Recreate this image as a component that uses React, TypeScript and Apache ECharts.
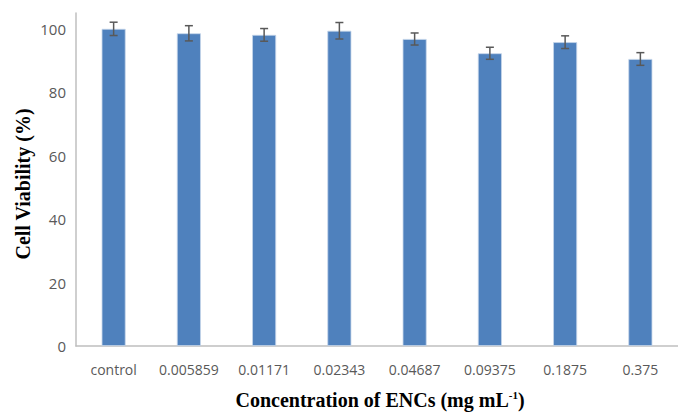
import React, { useEffect, useRef } from "react";
import * as echarts from "echarts";

const categories = ["control", "0.005859", "0.01171", "0.02343", "0.04687", "0.09375", "0.1875", "0.375"];
const viability = [100, 98.6, 98.1, 99.4, 96.8, 92.3, 95.8, 90.5];
const errors = [2.1, 2.4, 2.0, 2.6, 1.9, 1.9, 2.0, 2.0];
const yTicks = [0, 20, 40, 60, 80, 100];

export default function App() {
  const ref = useRef<HTMLDivElement>(null);
  useEffect(() => {
    if (!ref.current) return;
    const chart = echarts.init(ref.current, null, { renderer: "svg" });
    const errData = viability.map((v, i) => [i, v - errors[i], v + errors[i]]);
    chart.setOption({
      animation: false,
      backgroundColor: "#ffffff",
      grid: { left: 76, top: 13, width: 616, height: 333, containLabel: false },
      xAxis: {
        type: "category",
        data: categories,
        axisLine: { lineStyle: { color: "#BFBFBF", width: 1.5 } },
        axisTick: { show: false },
        axisLabel: { interval: 0, color: "#595959", fontSize: 14, fontFamily: "Open Sans", margin: 16 },
      },
      yAxis: {
        type: "value",
        min: 0,
        max: 105,
        interval: 20,
        splitLine: { show: false },
        axisLine: { show: true, lineStyle: { color: "#BFBFBF", width: 1.5 } },
        axisTick: { show: false },
        axisLabel: {
          color: "#595959",
          fontSize: 15,
          fontFamily: "Open Sans",
          margin: 10,
          showMaxLabel: false,
          formatter: (v: number) => (yTicks.includes(v) ? String(v) : ""),
        },
      },
      series: [
        {
          type: "bar",
          data: viability,
          barWidth: 24,
          itemStyle: { color: "#4F81BD", borderColor: "#c5d5ea", borderWidth: 0.8 },
        },
        {
          type: "custom",
          data: errData,
          z: 10,
          renderItem: (params: any, api: any) => {
            const x = api.value(0);
            const lo = api.coord([x, api.value(1)]);
            const hi = api.coord([x, api.value(2)]);
            const hw = 4;
            const st = { stroke: "#595959", lineWidth: 1.5 };
            return {
              type: "group",
              children: [
                { type: "line", shape: { x1: lo[0], y1: lo[1], x2: hi[0], y2: hi[1] }, style: st },
                { type: "line", shape: { x1: lo[0] - hw, y1: lo[1], x2: lo[0] + hw, y2: lo[1] }, style: st },
                { type: "line", shape: { x1: hi[0] - hw, y1: hi[1], x2: hi[0] + hw, y2: hi[1] }, style: st },
              ],
            };
          },
        },
      ],
      graphic: [
        {
          type: "text",
          x: 23,
          y: 184,
          rotation: Math.PI / 2,
          style: {
            text: "Cell Viability (%)",
            font: "bold 20px 'Liberation Serif'",
            fill: "#000",
            align: "center",
            verticalAlign: "middle",
          },
        },
        {
          type: "text",
          x: 380,
          y: 400,
          style: {
            text: "{a|Concentration of ENCs (mg mL}{s|-1}{a|)}",
            rich: {
              a: { font: "bold 20px 'Liberation Serif'", fill: "#000", verticalAlign: "middle" },
              s: { font: "bold 11px 'Liberation Serif'", fill: "#000", verticalAlign: "top", padding: [0, 0, 10, 0] },
            },
            align: "center",
            verticalAlign: "middle",
          },
        },
      ],
    });
    return () => chart.dispose();
  }, []);
  return <div ref={ref} style={{ width: 678, height: 412, position: "fixed", left: 0, top: 0 }} />;
}
